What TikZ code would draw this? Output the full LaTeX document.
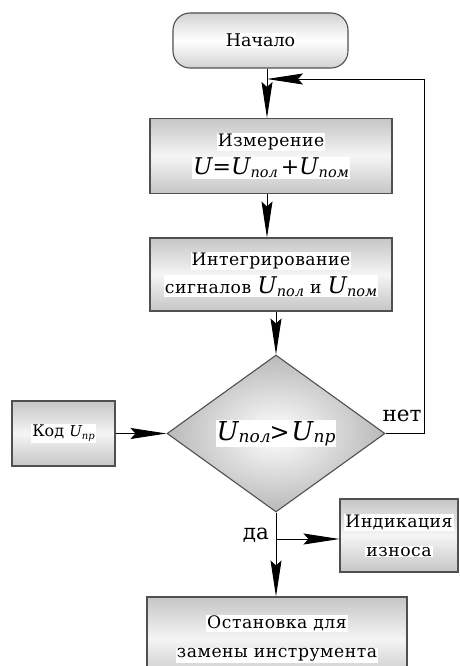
\documentclass[tikz,border=0pt]{standalone}
\usepackage{fontspec}
\setmainfont{DejaVu Serif}
\newfontfamily\spaced[LetterSpace=3]{DejaVu Serif}
\usetikzlibrary{shapes.geometric,arrows.meta}
\definecolor{edge}{HTML}{505050}
\newcommand\Ub[3]{{\fontsize{#1}{#1}\selectfont\textit{U}}\kern-0.5pt\raisebox{-0.35ex}{\fontsize{#2}{#2}\selectfont\textit{#3}}}
\newcommand\wb[1]{\colorbox{white}{#1}}
\begin{document}
\begin{tikzpicture}[x=1pt,y=-1pt,
  box/.style={draw=edge,line width=1.1pt,rectangle,inner sep=0pt,
    top color=gray!45,bottom color=gray!45,middle color=white!92!gray,
    align=center,font=\spaced\fontsize{17.2}{31}\selectfont},
  arr/.style={draw=black,line width=0.9pt,-{Stealth[length=36pt,width=11pt,inset=5pt]}},
  lbl/.style={font=\fontsize{21.5}{21.5}\selectfont,inner sep=0pt}]
\useasboundingbox (0,0) rectangle (460,666);
\setlength{\fboxsep}{1pt}
\node[box,rounded corners=17pt,minimum width=175pt,minimum height=55pt,
  top color=gray!35,bottom color=gray!35,middle color=white,
  font=\fontsize{17.5}{20}\selectfont] (start) at (260.5,40.5) {\wb{Начало}};
\node[box,minimum width=242pt,minimum height=75pt] (meas) at (271,156)
  {\wb{Измерение}\\[-3pt]\wb{\normalfont\Ub{23}{14.5}{}{\fontsize{22}{22}\selectfont=}\Ub{23}{14.5}{пол}\,{\fontsize{22}{22}\selectfont+}\Ub{23}{14.5}{пом}}};
\node[box,minimum width=242pt,minimum height=73pt] (integ) at (271,274.5)
  {\wb{Интегрирование}\\[-3pt]\wb{сигналов {\normalfont\Ub{23}{14.5}{пол}} и {\normalfont\Ub{23}{14.5}{пом}}}};
\node[diamond,draw=edge,line width=1.1pt,minimum width=218pt,minimum height=157pt,
  inner sep=0pt,inner color=white,outer color=gray!55] (dec) at (276,433.5) {};
\node[fill=white,inner sep=1pt] (declbl) at (dec.center)
  {\Ub{26}{17}{пол}\kern-1pt{\fontsize{24}{24}\selectfont>}\,\Ub{26}{17}{пр}};
\node[box,minimum width=103pt,minimum height=65pt,font=\fontsize{16}{20}\selectfont] (kod) at (63.5,433.5)
  {\wb{Код \Ub{15}{10}{пр}}};
\node[box,minimum width=118pt,minimum height=73pt] (ind) at (399,535.5)
  {\wb{Индикация}\\[-2pt]\wb{износа}};
\node[box,minimum width=260pt,minimum height=84pt] (stop) at (277,639)
  {\wb{Остановка для}\\[-2pt]\wb{замены инструмента}};
\coordinate (join) at (267,79);
\coordinate (loopR) at (424,79);
\draw[arr] (start.south -| join) -- (meas.north -| join);
\draw[arr] (dec.east) -| (loopR) -- (join);
\draw[arr] (meas.south -| join) -- (integ.north -| join);
\draw[arr] (integ.south -| dec.north) -- (dec.north);
\draw[arr] (kod.east) -- (dec.west);
\draw[arr] (dec.south) -- (dec.south |- stop.north);
\coordinate (br) at (dec.south |- 0,539);
\draw[arr] (br) -- (br -| ind.west);
\node[lbl,anchor=base] (net) at (402,421) {нет};
\node[lbl,anchor=base] (da) at (256,539) {да};
\end{tikzpicture}
\end{document}
